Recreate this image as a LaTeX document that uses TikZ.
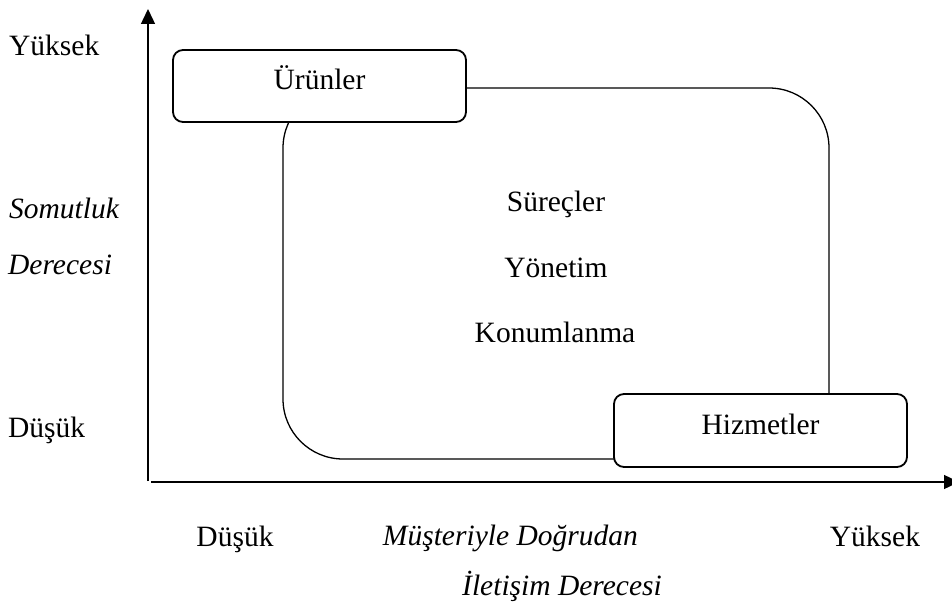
\documentclass[tikz,border=0pt]{standalone}
\usepackage{fontspec}
\setmainfont{Liberation Serif}
\usetikzlibrary{arrows.meta}
\begin{document}
\begin{tikzpicture}[x=1pt,y=-1pt,
  every node/.style={font=\fontsize{29.5}{34}\selectfont, inner sep=0pt},
  axisline/.style={line width=1.4pt, -{Triangle[length=15pt,width=14pt]}},
  catbox/.style={draw, line width=1.8pt, fill=white, rounded corners=10pt,
    text height=8pt, text depth=0pt},
  zonebox/.style={draw, line width=1.3pt, rounded corners=60pt},
  lbl/.style={anchor=base},
  lblw/.style={anchor=base west},
  lble/.style={anchor=base east}]
\useasboundingbox (0,0) rectangle (952,612);

% axes
\coordinate (yorig) at (148,481);
\coordinate (ytop) at (148,9);
\coordinate (xorig) at (151,482);
\coordinate (xend) at (959,482);
\draw[axisline] (yorig) -- (ytop);
\draw[axisline] (xorig) -- (xend);

% region spanning products to services
\node[zonebox, minimum width=546pt, minimum height=371pt] (zone) at (556,273.5) {};

% category boxes
\node[catbox, minimum width=293pt, minimum height=72pt] (urun) at (319.5,86) {Ürünler};
\node[catbox, minimum width=293pt, minimum height=73pt] (hizmet) at (760.5,430.5) {Hizmetler};

% inner labels
\node[lbl] (surec) at (556,212) {Süreçler};
\node[lbl] (yonetim) at (556,277) {Yönetim};
\node[lbl] (konum) at (555,342) {Konumlanma};

% vertical axis labels
\node[lblw] (yyuksek) at (9,56) {Yüksek};
\node[lblw] (somut) at (9,219) {\itshape Somutluk};
\node[lblw] (yder) at (8,274) {\itshape Derecesi};
\node[lblw] (ydusuk) at (8,437) {Düşük};

% horizontal axis labels
\node[lbl] (xdusuk) at (235,546) {Düşük};
\node[lble] (musteri) at (638,545) {\itshape Müşteriyle Doğrudan};
\node[lbl] (xyuksek) at (875,546) {Yüksek};
\node[lblw] (iletisim) at (462,595) {\itshape İletişim Derecesi};
\end{tikzpicture}
\end{document}
